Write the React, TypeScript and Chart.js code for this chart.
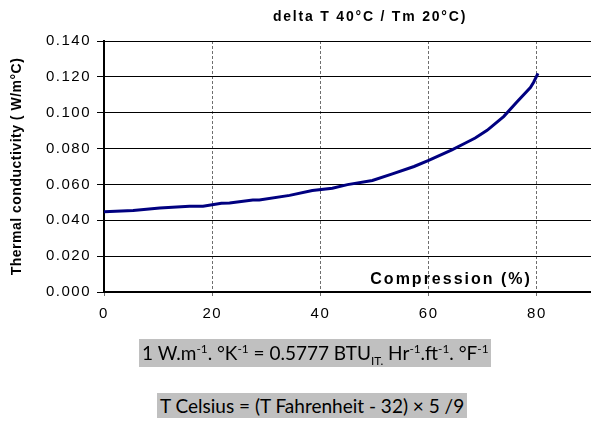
import React, { useEffect, useRef } from "react";
import { Chart, registerables } from "chart.js";

Chart.register(...registerables);

// ---- data ----
const compression = [0, 5.4, 10.3, 15.8, 18.3, 21.7, 23.2, 27.5, 28.7, 34.3, 38.5, 42.2, 45, 49.6, 53.3, 57.3, 60, 64.3, 66.8, 68.6, 70.8, 73.9, 76.3, 78.8, 79.4, 80.2];
const conductivity = [0.0448, 0.0455, 0.0469, 0.0478, 0.0478, 0.0495, 0.0497, 0.0513, 0.0513, 0.0539, 0.0566, 0.0579, 0.0599, 0.0622, 0.0659, 0.07, 0.0734, 0.0793, 0.0831, 0.0859, 0.0902, 0.098, 0.106, 0.114, 0.117, 0.1219];
const xTicks = [0, 20, 40, 60, 80];
const yTicks = [0, 0.02, 0.04, 0.06, 0.08, 0.1, 0.12, 0.14];

const chartTitle = "delta T 40°C / Tm 20°C)";
const yTitle = "Thermal conductivity ( W/m°C)";
const xTitle = "Compression (%)";

const FONT = "'Liberation Sans', Arial, sans-serif";

const textPlugin = {
  id: "texts",
  beforeLayout(chart: any) {
    chart.ctx.letterSpacing = "1.5px";
  },
  beforeDraw(chart: any) {
    chart.ctx.letterSpacing = "1.5px";
  },
  afterDraw(chart: any) {
    const { ctx, chartArea, scales } = chart;
    ctx.save();
    ctx.fillStyle = "#000";
    ctx.textBaseline = "middle";
    // chart title
    ctx.letterSpacing = "1.8px";
    ctx.font = `bold 14px ${FONT}`;
    ctx.textAlign = "center";
    ctx.fillText(chartTitle, 370, 17);
    // x axis title inside plot
    ctx.letterSpacing = "2px";
    ctx.font = `bold 16px ${FONT}`;
    ctx.textAlign = "right";
    ctx.fillText(xTitle, scales.x.getPixelForValue(80) - 5, chartArea.bottom - 12);
    // y axis title (rotated)
    ctx.letterSpacing = "0.5px";
    ctx.font = `bold 14px ${FONT}`;
    ctx.textAlign = "center";
    ctx.translate(17, (chartArea.top + chartArea.bottom) / 2);
    ctx.rotate(-Math.PI / 2);
    ctx.fillText(yTitle, 0, 0);
    ctx.restore();
  },
};

export default function App() {
  const ref = useRef<HTMLCanvasElement | null>(null);

  useEffect(() => {
    if (!ref.current) return;
    const chart = new Chart(ref.current, {
      type: "scatter",
      data: {
        datasets: [
          {
            data: compression.map((x, i) => ({ x, y: conductivity[i] })),
            showLine: true,
            borderColor: "#000080",
            backgroundColor: "#000080",
            borderWidth: 3,
            pointRadius: 0,
            tension: 0,
          },
        ],
      },
      options: {
        animation: false,
        responsive: false,
        devicePixelRatio: 1,
        layout: { padding: { top: 41, right: 0, left: 0, bottom: 0 } },
        plugins: {
          legend: { display: false },
          tooltip: { enabled: false },
          title: { display: false },
        },
        scales: {
          x: {
            type: "linear",
            min: 0,
            max: 90,
            afterBuildTicks: (s: any) => {
              s.ticks = xTicks.map((v) => ({ value: v }));
            },
            afterFit: (s: any) => {
              s.height = 421 - 292;
            },
            ticks: {
              color: "#000",
              font: { family: FONT, size: 15 },
              padding: 8,
              maxRotation: 0,
              callback: (v: any) => String(v),
            },
            grid: {
              color: (c: any) => (c.tick && c.tick.value === 0 ? "rgba(0,0,0,0)" : "#6e6e6e"),
              lineWidth: 1,
              tickColor: "#6e6e6e",
              tickLength: 5,
              tickBorderDash: [3, 2],
            },
            border: { display: true, color: "#000", width: 2, dash: [3, 2] },
          },
          y: {
            min: 0,
            max: 0.14,
            afterBuildTicks: (s: any) => {
              s.ticks = yTicks.map((v) => ({ value: v }));
            },
            afterFit: (s: any) => {
              s.width = 104;
            },
            ticks: {
              color: "#000",
              font: { family: FONT, size: 15 },
              padding: 6,
              callback: (v: any) => Number(v).toFixed(3),
            },
            grid: {
              color: "#000",
              lineWidth: 1,
              tickColor: "#000",
              tickLength: 7,
            },
            border: { display: true, color: "#000", width: 2 },
          },
        },
      },
      plugins: [textPlugin],
    });
    return () => chart.destroy();
  }, []);

  const box: React.CSSProperties = {
    position: "absolute",
    background: "#c0c0c0",
    fontFamily: "Lato, 'Open Sans', sans-serif",
    color: "#000",
    whiteSpace: "nowrap",
    padding: "0 3px",
  };
  const sup: React.CSSProperties = { fontSize: "0.62em", verticalAlign: "super", lineHeight: 0 };
  const sub: React.CSSProperties = { fontSize: "0.62em", verticalAlign: "sub", lineHeight: 0 };

  return (
    <div style={{ position: "absolute", left: 0, top: 0, width: 591, height: 421, background: "#fff" }}>
      <canvas ref={ref} width={591} height={421} style={{ position: "absolute", left: 0, top: 0, width: 591, height: 421 }} />
      <div style={{ ...box, left: 139, top: 339, height: 28, lineHeight: "28px", fontSize: 19 }}>
        1 W.m<span style={sup}>-1</span>. °K<span style={sup}>-1</span> = 0.5777 BTU<span style={sub}>IT.</span> Hr
        <span style={sup}>-1</span>.ft<span style={sup}>-1</span>. °F<span style={sup}>-1</span>
      </div>
      <div style={{ ...box, left: 157, top: 393, height: 25, lineHeight: "25px", fontSize: 19 }}>
        T Celsius = (T Fahrenheit - 32) × 5 /9
      </div>
    </div>
  );
}
